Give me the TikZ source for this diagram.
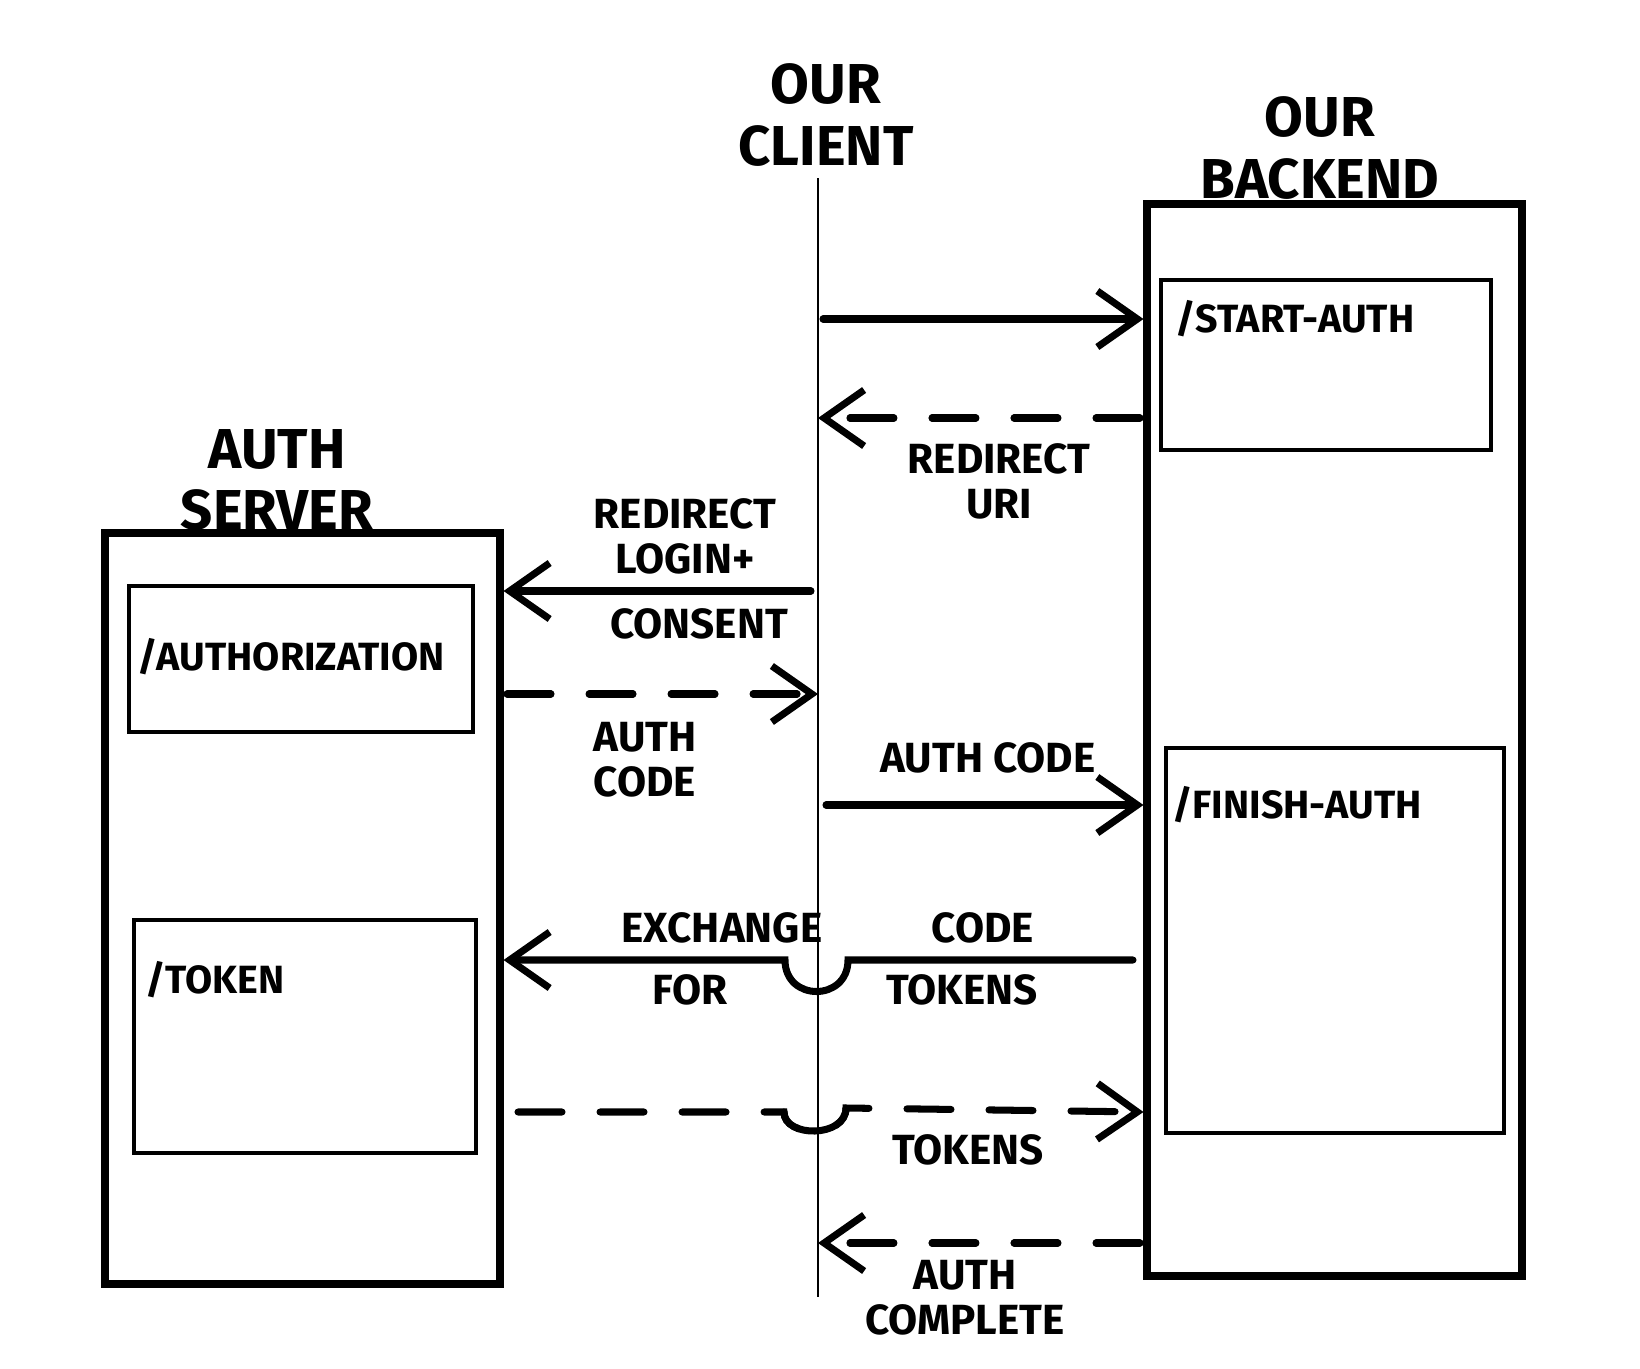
\documentclass[tikz,border=0pt]{standalone}
\usepackage{fontspec}
\setmainfont{Fira Sans}
\usetikzlibrary{arrows.meta,positioning,fit}

\begin{document}
\begin{tikzpicture}[
    x=0.025cm, y=-0.025cm,
    every node/.style={font=\fontsize{30}{32}\selectfont\bfseries,align=center},
    actor/.style={font=\fontsize{40}{44}\selectfont\bfseries},
    server/.style={draw,line width=5pt,inner sep=0pt},
    route/.style={draw,line width=3pt,inner sep=0pt},
    routename/.style={anchor=west,inner sep=0pt,font=\fontsize{28}{32}\selectfont\bfseries},
    arrow/.style={-{Straight Barb[length=1cm,width=1.4cm]},line width=5pt,line cap=round},
    reply/.style={arrow,dash pattern=on 1.1cm off 0.95cm},
    hop/.style={line width=5pt,line cap=round},
    lifeline/.style={line width=2pt}
]
\useasboundingbox (0,0) rectangle (1640,1369);

% participants
\node[actor] (clientlbl) at (826,115) {OUR\\CLIENT};
\node[actor] (backendlbl) at (1320,148) {OUR\\BACKEND};
\node[actor] (authlbl) at (277,480) {AUTH\\SERVER};

\coordinate (ctop) at (818,178);
\coordinate (cbot) at (818,1297);
\draw[lifeline] (ctop) -- (cbot);

\node[server,fit={(1147,204) (1522,1276)}] (backend) {};
\node[route,fit={(1161,280) (1491,450)}] (start) {};
\node[route,fit={(1166,748) (1504,1133)}] (finish) {};
\node[server,fit={(105,533) (500,1284)}] (auth) {};
\node[route,fit={(129,586) (473,732)}] (authz) {};
\node[route,fit={(134,920) (476,1153)}] (token) {};

\node[routename] (startlbl) at (1175,319) {/START-AUTH};
\node[routename] (finishlbl) at (1172,805) {/FINISH-AUTH};
\node[routename] (authzlbl) at (137,657) {/AUTHORIZATION};
\node[routename] (tokenlbl) at (145,980) {/TOKEN};

% messages
\coordinate (a1) at (823,319);
\coordinate (a2) at (1140,418);
\coordinate (a3) at (811,591);
\coordinate (a4) at (507,694);
\coordinate (a5) at (826,805);
\coordinate (a6) at (1133,960);
\coordinate (a7) at (518,1112);
\coordinate (a8) at (1140,1243);

\draw[arrow] (a1) -- (a1 -| backend.west);
\draw[reply] (a2) -- (a2 -| ctop);
\draw[arrow] (a3) -- (a3 -| auth.east);
\draw[reply] (a4) -- (a4 -| ctop);
\draw[arrow] (a5) -- (a5 -| backend.west);
\draw[arrow] (a6) -- (848,960) .. controls (848,1002) and (785,1002) .. (785,960) -- (a6 -| auth.east);
\draw[reply] (a7) -- (784,1112) .. controls (784,1138) and (846,1138) .. (846,1108) -- (a7 -| backend.west);
\draw[hop] (784,1112) .. controls (784,1138) and (846,1138) .. (846,1108);
\draw[reply] (a8) -- (a8 -| ctop);

\node (uri) at (999,481) {REDIRECT\\URI};
\node (login) at (685,536) {REDIRECT\\LOGIN+};
\node (consent) at (699,624) {CONSENT};
\node (codeback) at (645,760) {AUTH\\CODE};
\node (codefwd) at (988,758) {AUTH CODE};
\node (exchange) at (722,928) {EXCHANGE};
\node (excode) at (983,928) {CODE};
\node (exfor) at (690,990) {FOR};
\node (extokens) at (962,990) {TOKENS};
\node (tokens) at (968,1150) {TOKENS};
\node (complete) at (965,1298) {AUTH\\COMPLETE};
\end{tikzpicture}
\end{document}
